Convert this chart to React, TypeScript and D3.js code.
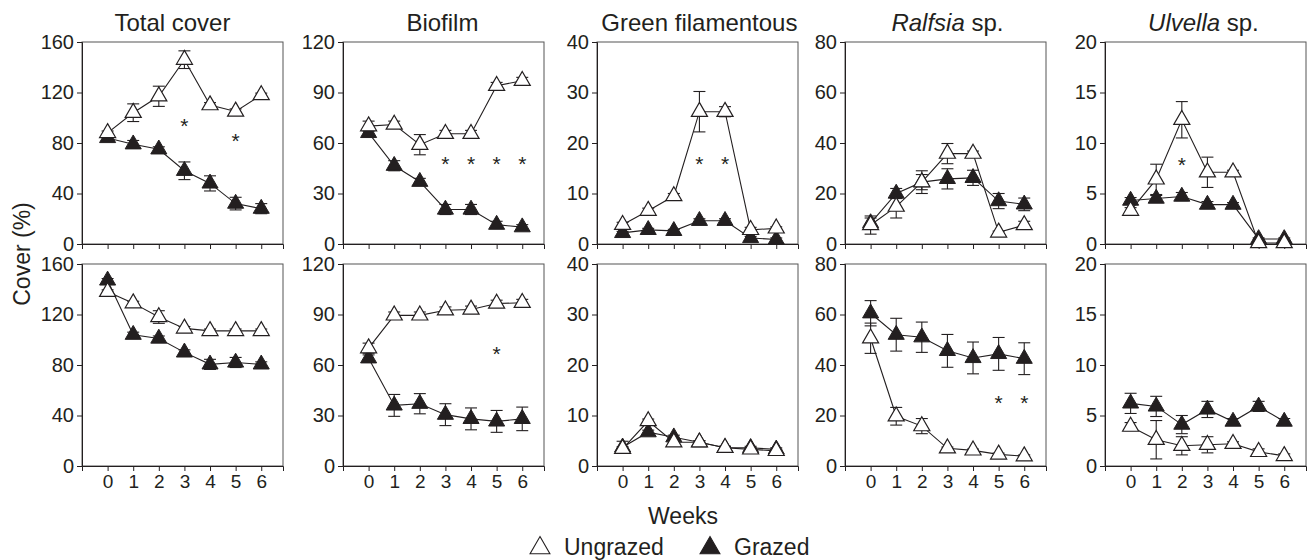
import { useEffect, useRef } from 'react';
import * as d3 from 'd3';

// weeks on the x axis
const weeks = [0, 1, 2, 3, 4, 5, 6];

// panel headers (italic part, plain part)
const titleItalic = ['', '', '', 'Ralfsia', 'Ulvella'];
const titlePlain = ['Total cover', 'Biofilm', 'Green filamentous', ' sp.', ' sp.'];

// y axis ticks per column
const yTicks = [
  [0, 40, 80, 120, 160],
  [0, 30, 60, 90, 120],
  [0, 10, 20, 30, 40],
  [0, 20, 40, 60, 80],
  [0, 5, 10, 15, 20],
];

// ---- top row ----
const totalTopUngrazed = [88, 104, 117, 146, 110, 105, 118];
const totalTopUngrazedErr = [1.5, 7, 8, 7, 2, 2, 1.5];
const totalTopGrazed = [84, 79, 75, 58, 48, 32, 28];
const totalTopGrazedErr = [1.5, 3, 2, 7, 6, 5, 4];
const totalTopStars = [3, 5];
const totalTopStarY = [97, 85];

const biofilmTopUngrazed = [70, 71, 59, 65.5, 65.5, 94, 97];
const biofilmTopUngrazedErr = [3, 2, 6, 2, 2, 2, 2];
const biofilmTopGrazed = [66, 46.5, 37, 20.5, 20.5, 11.5, 10];
const biofilmTopGrazedErr = [1.5, 3, 2, 3, 3, 2, 1.5];
const biofilmTopStars = [3, 4, 5, 6];
const biofilmTopStarY = [50, 50, 50, 50];

const greenTopUngrazed = [3.8, 6.6, 9.5, 26.2, 26.2, 2.8, 3.1];
const greenTopUngrazedErr = [0.5, 0.5, 0.5, 4, 1, 0.5, 0.3];
const greenTopGrazed = [2.2, 2.8, 2.6, 4.6, 4.6, 1.2, 0.9];
const greenTopGrazedErr = [0.3, 0.3, 0.3, 0.4, 0.4, 0.3, 0.3];
const greenTopStars = [3, 4];
const greenTopStarY = [16.6, 16.6];

const ralfsiaTopUngrazed = [7.5, 14.8, 24.5, 35.8, 35.8, 4.6, 7.5];
const ralfsiaTopUngrazedErr = [3.6, 4.5, 4.5, 4, 1, 0.5, 1.5];
const ralfsiaTopGrazed = [8.3, 20, 24.5, 25.8, 26.2, 17, 15.7];
const ralfsiaTopGrazedErr = [2, 2, 3, 4, 3, 3, 2.5];

const ulvellaTopUngrazed = [3.3, 6.4, 12.3, 7.1, 7.1, 0.1, 0.1];
const ulvellaTopUngrazedErr = [0.3, 1.5, 1.8, 1.5, 0.2, 0.1, 0.1];
const ulvellaTopGrazed = [4.3, 4.5, 4.7, 3.9, 3.9, 0.5, 0.5];
const ulvellaTopGrazedErr = [0.3, 0.3, 0.4, 0.3, 0.2, 0.1, 0.1];
const ulvellaTopStars = [2];
const ulvellaTopStarY = [8.2];

// ---- bottom row ----
const totalBotUngrazed = [138, 129, 118, 109, 107, 107, 107];
const totalBotUngrazedErr = [1.5, 1.5, 5, 1.5, 1.5, 1.5, 1.5];
const totalBotGrazed = [147, 104, 101, 90, 80.5, 82, 80.5];
const totalBotGrazedErr = [1.5, 2, 2, 2, 4, 4, 2];

const biofilmBotUngrazed = [70, 89.5, 89.5, 92.5, 93, 96.5, 97];
const biofilmBotUngrazedErr = [3, 2, 2, 2, 2, 2, 2];
const biofilmBotGrazed = [64, 36, 37, 30.5, 28, 26.5, 28];
const biofilmBotGrazedErr = [2, 6.5, 6, 6.5, 6.5, 6.5, 7];
const biofilmBotStars = [5];
const biofilmBotStarY = [69];

const greenBotUngrazed = [3.4, 8.9, 4.7, 4.7, 3.6, 3.3, 3.0];
const greenBotUngrazedErr = [0.4, 0.4, 0.4, 0.3, 0.3, 0.3, 0.3];
const greenBotGrazed = [3.7, 6.7, 5.7, 4.7, 3.6, 3.6, 3.3];
const greenBotGrazedErr = [1.2, 0.4, 0.4, 0.3, 0.3, 0.3, 0.3];

const ralfsiaBotUngrazed = [50.6, 19.7, 15.8, 7, 6.2, 4.6, 3.9];
const ralfsiaBotUngrazedErr = [6, 3.5, 3, 0.5, 0.5, 0.5, 0.5];
const ralfsiaBotGrazed = [60.5, 52, 51, 45.6, 42.8, 44.4, 42.5];
const ralfsiaBotGrazedErr = [5, 6.5, 6, 6.5, 6.3, 6.5, 6.3];
const ralfsiaBotStars = [5, 6];
const ralfsiaBotStarY = [26.6, 26.6];

const ulvellaBotUngrazed = [3.9, 2.6, 2.0, 2.1, 2.2, 1.4, 1.0];
const ulvellaBotUngrazedErr = [0.4, 1.9, 0.9, 0.8, 0.2, 0.3, 0.2];
const ulvellaBotGrazed = [6.2, 5.9, 4.1, 5.6, 4.4, 5.9, 4.4];
const ulvellaBotGrazedErr = [1, 1, 0.9, 0.8, 0.3, 0.5, 0.3];

const FONT = '"Liberation Sans", Arial, Helvetica, sans-serif';
const INK = '#231f20';

export default function App() {
  const svgRef = useRef<SVGSVGElement>(null);

  useEffect(() => {
    const svg = d3.select(svgRef.current);
    svg.selectAll('*').remove();

    const panelLeft = [82, 343, 597, 845, 1105];
    const titleShift = [-12, -3, 0, 0, -4];
    const rowTop = [42, 264];
    const pw = 201;
    const ph = 202;

    const rows = [
      [
        { u: totalTopUngrazed, ue: totalTopUngrazedErr, g: totalTopGrazed, ge: totalTopGrazedErr, sx: totalTopStars, sy: totalTopStarY },
        { u: biofilmTopUngrazed, ue: biofilmTopUngrazedErr, g: biofilmTopGrazed, ge: biofilmTopGrazedErr, sx: biofilmTopStars, sy: biofilmTopStarY },
        { u: greenTopUngrazed, ue: greenTopUngrazedErr, g: greenTopGrazed, ge: greenTopGrazedErr, sx: greenTopStars, sy: greenTopStarY },
        { u: ralfsiaTopUngrazed, ue: ralfsiaTopUngrazedErr, g: ralfsiaTopGrazed, ge: ralfsiaTopGrazedErr, sx: [], sy: [] },
        { u: ulvellaTopUngrazed, ue: ulvellaTopUngrazedErr, g: ulvellaTopGrazed, ge: ulvellaTopGrazedErr, sx: ulvellaTopStars, sy: ulvellaTopStarY },
      ],
      [
        { u: totalBotUngrazed, ue: totalBotUngrazedErr, g: totalBotGrazed, ge: totalBotGrazedErr, sx: [], sy: [] },
        { u: biofilmBotUngrazed, ue: biofilmBotUngrazedErr, g: biofilmBotGrazed, ge: biofilmBotGrazedErr, sx: biofilmBotStars, sy: biofilmBotStarY },
        { u: greenBotUngrazed, ue: greenBotUngrazedErr, g: greenBotGrazed, ge: greenBotGrazedErr, sx: [], sy: [] },
        { u: ralfsiaBotUngrazed, ue: ralfsiaBotUngrazedErr, g: ralfsiaBotGrazed, ge: ralfsiaBotGrazedErr, sx: ralfsiaBotStars, sy: ralfsiaBotStarY },
        { u: ulvellaBotUngrazed, ue: ulvellaBotUngrazedErr, g: ulvellaBotGrazed, ge: ulvellaBotGrazedErr, sx: [], sy: [] },
      ],
    ];

    const tri = d3.symbol(d3.symbolTriangle, 112);

    rows.forEach((row, ri) => {
      row.forEach((p, ci) => {
        const g = svg.append('g').attr('transform', `translate(${panelLeft[ci]},${rowTop[ri]})`);
        const ticks = yTicks[ci];
        const x = d3.scaleLinear().domain([-1, 6.85]).range([0, pw]);
        const y = d3.scaleLinear().domain([0, ticks[ticks.length - 1]]).range([ph, 0]);

        // frame
        g.append('rect').attr('width', pw).attr('height', ph)
          .attr('fill', 'none').attr('stroke', '#555').attr('stroke-width', 1);

        g.append('g').call(d3.axisLeft(y).tickValues(ticks).tickSize(5).tickPadding(3))
          .call(a => {
            a.select('.domain').attr('stroke', INK);
            a.selectAll('line').attr('stroke', INK);
            a.selectAll('text').attr('fill', INK).attr('font-size', 20).attr('font-family', FONT);
          });

        g.append('g').attr('transform', `translate(0,${ph})`)
          .call(d3.axisBottom(x).tickValues(weeks).tickSize(5).tickPadding(4)
            .tickFormat(ri === 1 ? (d => String(d)) : () => ''))
          .call(a => {
            a.select('.domain').attr('stroke', INK);
            a.selectAll('line').attr('stroke', INK);
            a.selectAll('text').attr('fill', INK).attr('font-size', 19).attr('font-family', FONT);
          });

        const line = d3.line<number>().x((_, i) => x(weeks[i])).y(d => y(d));
        [p.g, p.u].forEach(vals => {
          g.append('path').datum(vals).attr('d', line)
            .attr('fill', 'none').attr('stroke', INK).attr('stroke-width', 1.1);
        });

        // error bars
        [[p.g, p.ge], [p.u, p.ue]].forEach(([vals, errs]) => {
          vals.forEach((v, i) => {
            const cx = x(weeks[i]);
            const y1 = y(v + errs[i]);
            const y2 = y(Math.max(0, v - errs[i]));
            g.append('line').attr('x1', cx).attr('x2', cx).attr('y1', y1).attr('y2', y2)
              .attr('stroke', INK).attr('stroke-width', 1.1);
            [y1, y2].forEach(yy => {
              g.append('line').attr('x1', cx - 6).attr('x2', cx + 6).attr('y1', yy).attr('y2', yy)
                .attr('stroke', INK).attr('stroke-width', 1.1);
            });
          });
        });

        // markers: grazed (filled) then ungrazed (open) on top
        g.selectAll('.mg').data(p.g).enter().append('path')
          .attr('d', tri).attr('transform', (d, i) => `translate(${x(weeks[i])},${y(d)})`)
          .attr('fill', INK).attr('stroke', INK).attr('stroke-width', 1);
        g.selectAll('.mu').data(p.u).enter().append('path')
          .attr('d', tri).attr('transform', (d, i) => `translate(${x(weeks[i])},${y(d)})`)
          .attr('fill', '#fff').attr('stroke', INK).attr('stroke-width', 1.2);

        // significance asterisks
        p.sx.forEach((w, i) => {
          g.append('text').attr('x', x(w)).attr('y', y(p.sy[i]) + 11)
            .attr('text-anchor', 'middle').attr('font-size', 21).attr('font-family', FONT)
            .attr('fill', INK).text('*');
        });

        // column titles
        if (ri === 0) {
          const t = g.append('text').attr('x', x(3) + titleShift[ci]).attr('y', -11)
            .attr('text-anchor', 'middle').attr('font-size', 24).attr('font-family', FONT).attr('fill', INK);
          if (titleItalic[ci]) t.append('tspan').attr('font-style', 'italic').text(titleItalic[ci]);
          t.append('tspan').text(titlePlain[ci]);
        }
      });
    });

    // y label
    svg.append('text').attr('transform', 'translate(30,254) rotate(-90)')
      .attr('text-anchor', 'middle').attr('font-size', 23).attr('font-family', FONT)
      .attr('fill', INK).text('Cover (%)');

    // x label
    svg.append('text').attr('x', 683).attr('y', 524)
      .attr('text-anchor', 'middle').attr('font-size', 23).attr('font-family', FONT)
      .attr('fill', INK).text('Weeks');

    // legend
    const legTri = d3.symbol(d3.symbolTriangle, 170);
    const legend = [['Ungrazed', '#fff', 540], ['Grazed', INK, 710]] as const;
    legend.forEach(([label, fill, lx]) => {
      svg.append('path').attr('d', legTri).attr('transform', `translate(${lx},548)`)
        .attr('fill', fill).attr('stroke', INK).attr('stroke-width', 1.1);
      svg.append('text').attr('x', lx + 24).attr('y', 555)
        .attr('font-size', 23).attr('font-family', FONT).attr('fill', INK).text(label);
    });
  }, []);

  return (
    <div style={{ position: 'absolute', left: 0, top: 0 }}>
      <svg ref={svgRef} width={1307} height={560} style={{ display: 'block', background: '#fff' }} />
    </div>
  );
}
